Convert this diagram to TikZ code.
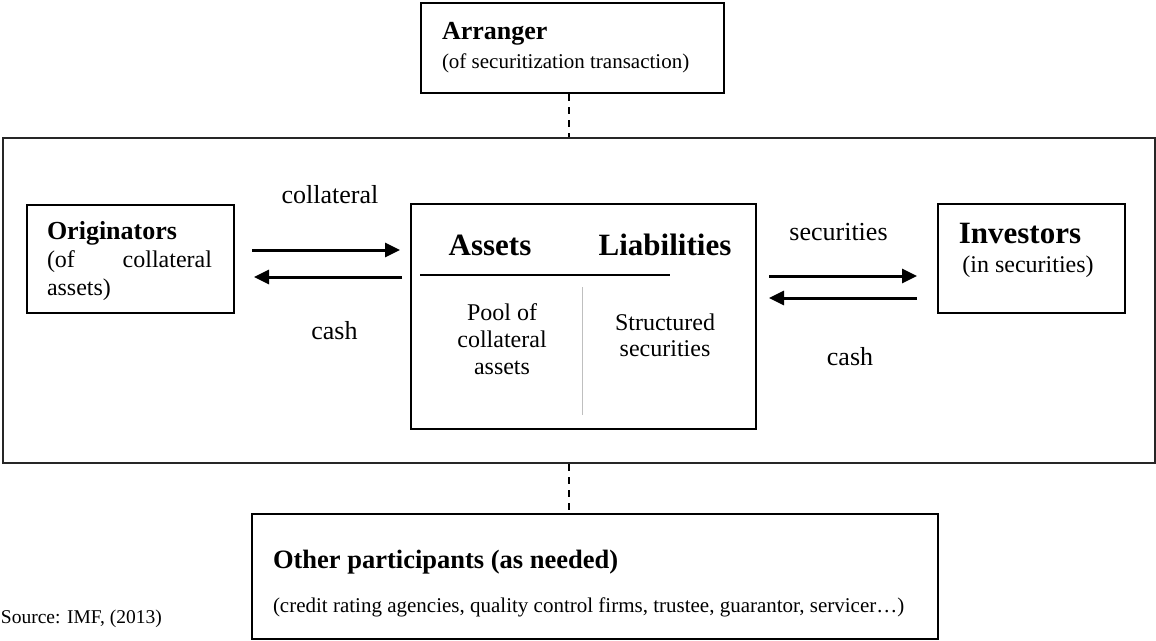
\documentclass[tikz,border=0pt]{standalone}
\usepackage{fontspec}
\setmainfont{Liberation Serif}
\usetikzlibrary{arrows.meta,calc}
\newcommand{\fs}[1]{\fontsize{#1}{#1}\selectfont}
\begin{document}
\begin{tikzpicture}[x=1pt,y=-1pt,
  box/.style={draw=black,line width=2pt,inner sep=0pt,anchor=north west},
  txt/.style={inner sep=0pt,outer sep=0pt},
  flow/.style={line width=3pt,-{Triangle[length=15pt,width=14pt]}},
  linkline/.style={line width=2pt,dash pattern=on 7pt off 6pt},
]
\useasboundingbox (0,0) rectangle (1156,640);

% outer frame of the securitization vehicle
\node[box,draw=black!85,minimum width=1152pt,minimum height=325pt] (frame) at (2,137) {};

% boxes
\node[box,minimum width=303pt,minimum height=90pt] (arr) at (420,2) {};
\node[box,minimum width=207pt,minimum height=108pt] (orig) at (26,204) {};
\node[box,minimum width=345pt,minimum height=225pt] (spv) at (410,203) {};
\node[box,minimum width=187pt,minimum height=109pt] (inv) at (937,203) {};
\node[box,minimum width=686pt,minimum height=125pt] (other) at (251,513) {};

% arranger
\node[txt,anchor=base west] (arrT) at (442,39) {\fs{26}\bfseries Arranger};
\node[txt,anchor=base west] (arrS) at (442,68) {\fs{21}(of securitization transaction)};

% originators
\node[txt,anchor=base west] (origT) at (47,239) {\fs{26}\bfseries Originators};
\node[txt,anchor=base west] (origA) at (47,267) {\fs{24}(of};
\node[txt,anchor=base east] (origB) at (212,267) {\fs{24}collateral};
\node[txt,anchor=base west] (origC) at (47,295) {\fs{24}assets)};

% balance sheet
\node[txt,anchor=base] (assetsT) at (490,255) {\fs{31}\bfseries Assets};
\node[txt,anchor=base] (liabT) at (665,255) {\fs{31}\bfseries Liabilities};
\draw[line width=2pt] ($(spv.north west)+(10,72)$) -- ($(spv.north west)+(260,72)$);
\draw[gray!50,line width=1pt] ($(spv.north west)+(172,84)$) -- ($(spv.north west)+(172,212)$);
\node[txt,anchor=base] (poolA) at (502,320) {\fs{24}Pool of};
\node[txt,anchor=base] (poolB) at (502,347) {\fs{24}collateral};
\node[txt,anchor=base] (poolC) at (502,374) {\fs{24}assets};
\node[txt,anchor=base] (strA) at (665,330) {\fs{24}Structured};
\node[txt,anchor=base] (strB) at (665,356) {\fs{24}securities};

% investors
\node[txt,anchor=base] (invT) at (1020,243) {\fs{31}\bfseries Investors};
\node[txt,anchor=base] (invS) at (1028,272) {\fs{24}(in securities)};

% flows between originators and the vehicle
\coordinate (oa) at ([yshift=9pt]orig.east);
\coordinate (ob) at ([yshift=-18pt]orig.east);
\draw[flow,shorten <=17pt,shorten >=10pt] (oa) -- (oa -| spv.west);
\draw[flow,shorten <=8pt,shorten >=19pt] (ob -| spv.west) -- (ob);
\node[txt,anchor=base] (collL) at (330,203) {\fs{26}collateral};
\node[txt,anchor=base] (cashL) at (334.5,339) {\fs{26}cash};

% flows between the vehicle and investors
\coordinate (ia) at ([yshift=-17.5pt]inv.west);
\coordinate (ib) at ([yshift=-39.5pt]inv.west);
\draw[flow,shorten <=12pt,shorten >=20pt] (ia -| spv.east) -- (ia);
\draw[flow,shorten <=20pt,shorten >=12pt] (ib) -- (ib -| spv.east);
\node[txt,anchor=base] (secR) at (838.5,240) {\fs{26}securities};
\node[txt,anchor=base] (cashR) at (850,365) {\fs{26}cash};

% other participants
\node[txt,anchor=base west] (otherT) at (273,568) {\fs{26.5}\bfseries Other participants (as needed)};
\node[txt,anchor=base west] (otherS) at (273,612) {\fs{21}(credit rating agencies, quality control firms, trustee, guarantor, servicer…)};

% dashed links
\draw[linkline] ([xshift=-3.5pt]arr.south) -- ([xshift=-3.5pt]arr.south |- frame.north);
\draw[linkline] ([xshift=-10pt]frame.south) -- ([xshift=-10pt]frame.south |- other.north);

% source note
\node[txt,anchor=base west] (src) at (1,623) {\fs{19.5}Source: IMF, (2013)};
\end{tikzpicture}
\end{document}
